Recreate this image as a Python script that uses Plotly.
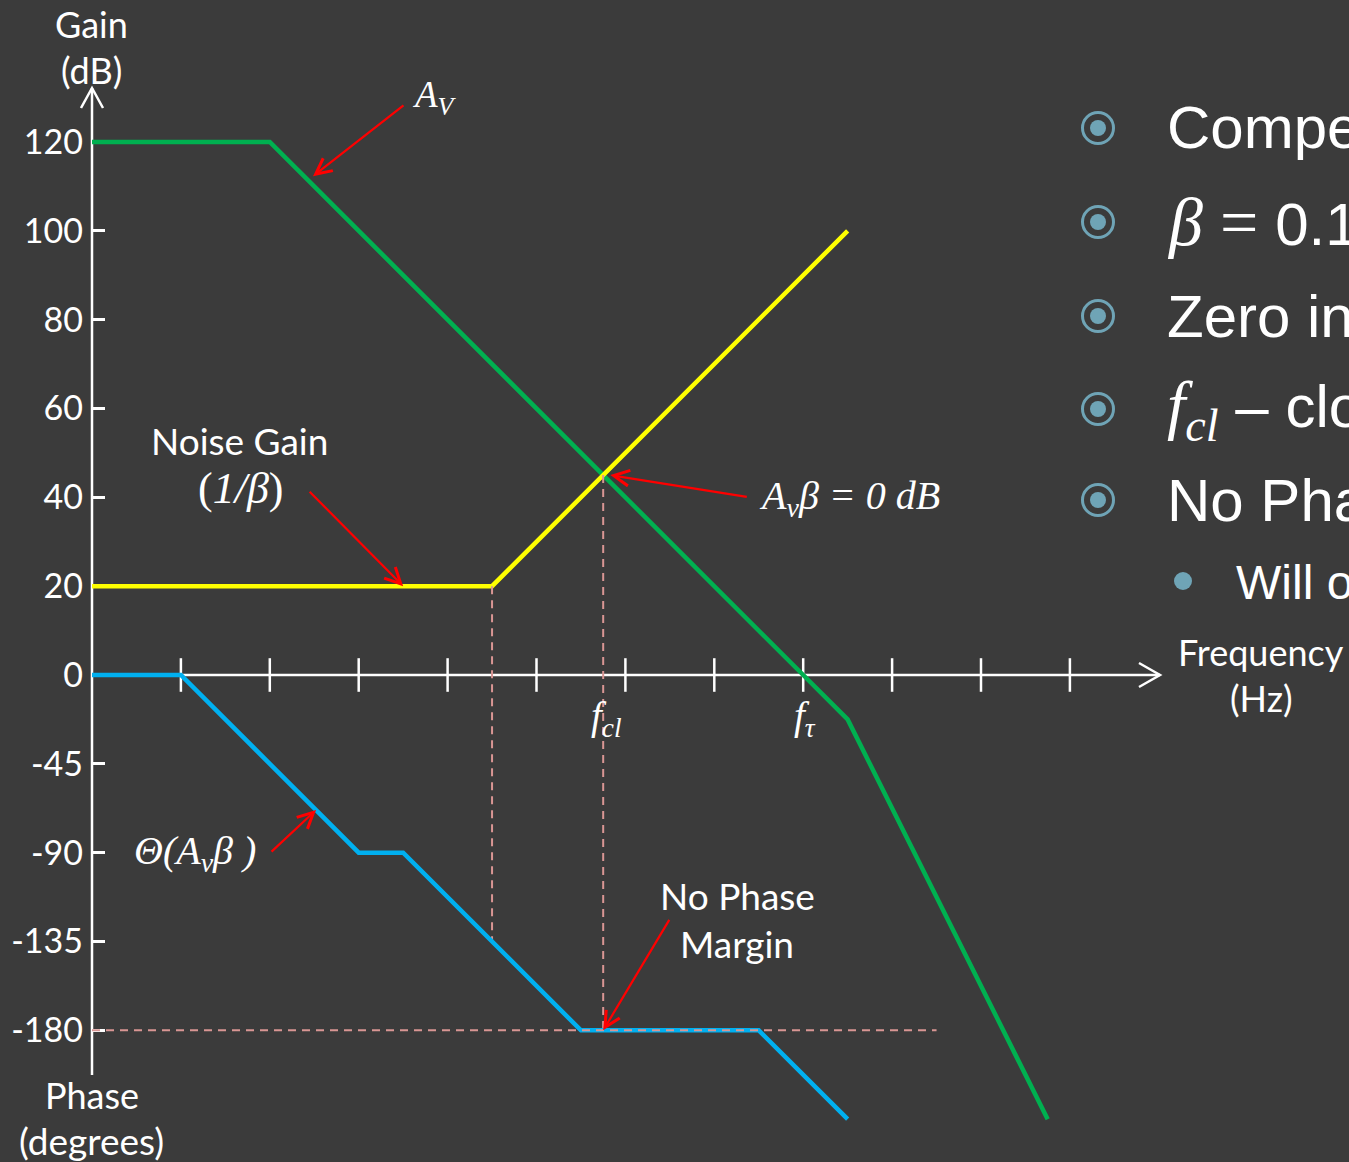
import plotly.graph_objects as go

# ---- data -----------------------------------------------------------------
# frequency axis in decades (tick marks at every decade)
freq_ticks = [1, 2, 3, 4, 5, 6, 7, 8, 9, 10, 11]

# open-loop gain A_v (dB)
av_x = [0, 2, 8, 8.5, 10.75]
av_db = [120, 120, 0, -10, -100]

# noise gain 1/beta (dB)
noise_x = [0, 4.5, 8.5]
noise_db = [20, 20, 100]

# loop phase theta(A_v beta) (degrees)
phase_x = [0, 1, 3, 3.5, 5.5, 7.5, 8.5]
phase_deg = [0, 0, -90, -90, -180, -180, -225]

# key frequencies / levels
f_zero = 4.5          # noise-gain corner
f_cl = 5.75           # A_v beta = 0 dB crossing
gain_at_fcl = 45
phase_limit = -180
phase_at_zero = -135

gain_ticks = [0, 20, 40, 60, 80, 100, 120]
phase_ticks = [-45, -90, -135, -180]
phase_tick_text = ["-45", "-90", "-135", "-180"]

# ---- scales ----------------------------------------------------------------
W, H = 1349, 1162
X0_PX, PX_PER_DEC = 92, 88.9
Y0_PX, PX_PER_DB = 675, 4.4417
DEG_PER_DB = 45 / 20  # 20 dB and 45 degrees share one grid step

x_range = [-X0_PX / PX_PER_DEC, (W - X0_PX) / PX_PER_DEC]
y_range = [-(H - Y0_PX) / PX_PER_DB, Y0_PX / PX_PER_DB]
y2_range = [v * DEG_PER_DB for v in y_range]


def deg_to_db(d):
    return d / DEG_PER_DB


def px(x):
    return x / W


def py(y):
    return 1 - y / H


BG = "#3b3b3b"
GREEN = "#00b050"
YELLOW = "#ffff00"
BLUE = "#00b0f0"
RED = "#ff0000"
DASH = "#d99694"
WHITE = "#ffffff"
BULLET = "#6fa4b6"
SANS = "Lato"
SERIF = "Liberation Serif"
BODY = "Liberation Sans"
LW = 4.5

fig = go.Figure()

# decade tick marks crossing the frequency axis
fig.add_trace(go.Scatter(
    x=freq_ticks, y=[0] * len(freq_ticks), mode="markers",
    marker=dict(symbol="line-ns", size=24, line=dict(color=WHITE, width=2.5)),
    hoverinfo="skip"))

fig.add_trace(go.Scatter(x=av_x, y=av_db, mode="lines",
                         line=dict(color=GREEN, width=LW), name="A_v"))
fig.add_trace(go.Scatter(x=noise_x, y=noise_db, mode="lines",
                         line=dict(color=YELLOW, width=LW), name="1/beta"))
fig.add_trace(go.Scatter(x=phase_x, y=phase_deg, mode="lines", yaxis="y2",
                         line=dict(color=BLUE, width=LW), name="phase"))

# dashed guide lines
dash_line = dict(color=DASH, width=2, dash="8px,6px")
fig.add_trace(go.Scatter(x=[f_zero, f_zero],
                         y=[noise_db[1], deg_to_db(phase_at_zero)],
                         mode="lines", line=dash_line, hoverinfo="skip"))
fig.add_trace(go.Scatter(x=[f_cl, f_cl],
                         y=[gain_at_fcl, deg_to_db(phase_limit)],
                         mode="lines", line=dash_line, hoverinfo="skip"))
fig.add_trace(go.Scatter(x=[0, 9.5], y=[phase_limit, phase_limit], yaxis="y2",
                         mode="lines", line=dash_line, hoverinfo="skip"))

# ---- axes lines with open arrow heads --------------------------------------
y_top = (Y0_PX - 88) / PX_PER_DB
y_bot = (Y0_PX - 1075) / PX_PER_DB
x_end = (1160 - X0_PX) / PX_PER_DEC
axis_line = dict(color=WHITE, width=2.5)
shapes = [
    dict(type="line", xref="x", yref="y", x0=0, x1=0, y0=y_bot, y1=y_top,
         line=axis_line, layer="below"),
    dict(type="line", xref="x", yref="y", x0=0, x1=x_end, y0=0, y1=0,
         line=axis_line, layer="below"),
    dict(type="path", xref="x", yref="y", xsizemode="pixel", ysizemode="pixel",
         xanchor=0, yanchor=y_top, path="M -11,-20 L 0,0 L 11,-20",
         line=axis_line, layer="below"),
    dict(type="path", xref="x", yref="y", xsizemode="pixel", ysizemode="pixel",
         xanchor=x_end, yanchor=0, path="M -21,-12 L 0,0 L -21,12",
         line=axis_line, layer="below"),
]

# bullet markers of the side text
for cy in [128, 222, 316, 409, 500]:
    cx = 1098
    shapes.append(dict(type="circle", xref="paper", yref="paper",
                       x0=px(cx - 15.5), x1=px(cx + 15.5),
                       y0=py(cy + 15.5), y1=py(cy - 15.5),
                       line=dict(color=BULLET, width=3)))
    shapes.append(dict(type="circle", xref="paper", yref="paper",
                       x0=px(cx - 8), x1=px(cx + 8), y0=py(cy + 8), y1=py(cy - 8),
                       fillcolor=BULLET, line=dict(width=0)))
shapes.append(dict(type="circle", xref="paper", yref="paper",
                   x0=px(1183 - 9), x1=px(1183 + 9), y0=py(581 + 9), y1=py(581 - 9),
                   fillcolor=BULLET, line=dict(width=0)))

# ---- annotations -----------------------------------------------------------
ann = []


def label(text, x, y, size=36, family=SANS, xanchor="center"):
    ann.append(dict(text=text, x=px(x), y=py(y), xref="paper", yref="paper",
                    xanchor=xanchor, yanchor="middle", showarrow=False,
                    font=dict(family=family, size=size, color=WHITE)))


def arrow(x, y, ax, ay, yref="y"):
    ann.append(dict(text="", x=x, y=y, xref="x", yref=yref, ax=ax, ay=ay,
                    showarrow=True, arrowhead=5, arrowsize=1.4, arrowwidth=2.2,
                    arrowcolor=RED, standoff=0))


label("Gain", 92, 24)
label("(dB)", 92, 70)
label("Phase", 92, 1095)
label("(degrees)", 92, 1140, size=37)
label("Frequency", 1261, 652)
label("(Hz)", 1261, 698)
label("Noise Gain", 239, 440, size=37)
label("(<i>1/β</i>)", 240, 488, size=44, family=SERIF)
label("No Phase", 737, 895, size=37)
label("Margin", 737, 943, size=37)
label("<i>A<sub>V</sub></i>", 434, 98, size=37, family=SERIF)
label("<i>A<sub>v</sub>β = 0 dB</i>", 850, 498, size=40, family=SERIF)
label("<i>f<sub>cl</sub></i>", 606, 718, size=39, family=SERIF)
label("<i>f<sub>τ</sub></i>", 805, 718, size=39, family=SERIF)
label("<i>Θ(A<sub>v</sub>β )</i>", 195, 853, size=40, family=SERIF)

# pointer arrows
arrow(2.486, 112.3, 92, -72)
arrow(3.5, noise_db[0], -95, -96)
arrow(5.83, gain_at_fcl, 138, 22)
arrow(2.52, -68.4, -46, 43, yref="y2")
arrow(f_cl, phase_limit, 67, -112, yref="y2")

# side text
side = [
    (128, "Compensated op amp"),
    (222, f"<span style='font-family:{SERIF};font-size:68px'><i>β</i> = </span>0.1 (20 dB)"),
    (316, "Zero in noise gain"),
    (409, f"<span style='font-family:{SERIF};font-size:66px'><i>f<sub>cl</sub></i></span> – closed-loop bandwidth"),
    (500, "No Phase Margin"),
]
for y, t in side:
    label(t, 1165, y, size=60, family=BODY, xanchor="left")
label("Will oscillate", 1234, 582, size=48, family=BODY, xanchor="left")

tickfont = dict(family=SANS, size=34, color=WHITE)
fig.update_layout(
    width=W, height=H,
    margin=dict(l=0, r=0, t=0, b=0),
    paper_bgcolor=BG, plot_bgcolor=BG,
    showlegend=False,
    xaxis=dict(range=x_range, visible=False, fixedrange=True),
    yaxis=dict(range=y_range, anchor="free", position=X0_PX / W,
               tickvals=gain_ticks, ticks="inside", ticklen=12, tickwidth=2.5,
               tickcolor=WHITE, tickfont=tickfont, ticklabelstandoff=9,
               layer="below traces",
               showgrid=False, zeroline=False, showline=False),
    yaxis2=dict(range=y2_range, overlaying="y", anchor="free",
                position=X0_PX / W, side="left",
                tickvals=phase_ticks, ticktext=phase_tick_text,
                ticks="inside", ticklen=12, tickwidth=2.5,
                tickcolor=WHITE, tickfont=tickfont, ticklabelstandoff=9,
                layer="below traces",
                showgrid=False, zeroline=False, showline=False),
    shapes=shapes,
    annotations=ann,
)

fig.write_html("out.html")
